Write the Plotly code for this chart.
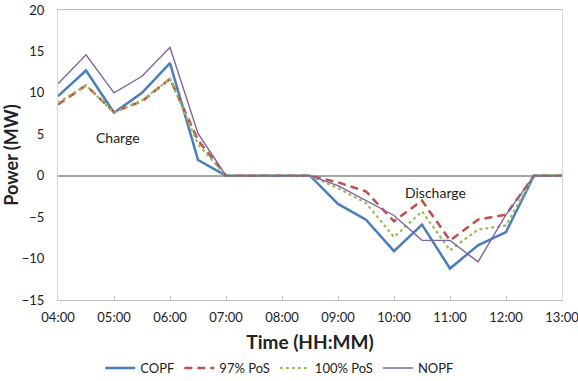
import plotly.graph_objects as go

# Half-hourly time stamps from 04:00 to 13:00
times = ["04:00", "04:30", "05:00", "05:30", "06:00", "06:30", "07:00", "07:30",
         "08:00", "08:30", "09:00", "09:30", "10:00", "10:30", "11:00", "11:30",
         "12:00", "12:30", "13:00"]

copf = [9.6, 12.7, 7.6, 10.0, 13.6, 1.9, 0, 0, 0, 0, -3.4, -5.3, -9.1, -5.9, -11.2, -8.4, -6.8, 0, 0]
pos97 = [8.6, 10.9, 7.7, 9.0, 11.7, 4.3, 0, 0, 0, 0, -0.8, -1.9, -5.5, -3.0, -7.8, -5.3, -4.7, 0, 0]
pos100 = [8.8, 10.9, 7.6, 9.1, 11.7, 3.8, 0, 0, 0, 0, -1.5, -3.3, -7.4, -4.3, -9.0, -6.5, -6.0, 0, 0]
nopf = [11.1, 14.6, 10.0, 12.0, 15.5, 5.1, 0, 0, 0, 0, -1.2, -3.0, -4.8, -7.8, -7.8, -10.4, -4.7, 0, 0]

x = ["2000-01-01 " + t for t in times]

fig = go.Figure()
fig.add_trace(go.Scatter(x=x, y=copf, name="COPF", mode="lines",
                         line=dict(color="#4a7ebb", width=2.5)))
fig.add_trace(go.Scatter(x=x, y=pos97, name="97% PoS", mode="lines",
                         line=dict(color="#c0504d", width=2.5, dash="8px,5px")))
fig.add_trace(go.Scatter(x=x, y=pos100, name="100% PoS", mode="lines",
                         line=dict(color="#9bbb59", width=2.2, dash="dot")))
fig.add_trace(go.Scatter(x=x, y=nopf, name="NOPF", mode="lines",
                         line=dict(color="#8064a2", width=1.4)))

fig.add_annotation(x="2000-01-01 05:04", y=4.6, text="Charge", showarrow=False,
                   font=dict(size=14, color="#222"))
fig.add_annotation(x="2000-01-01 10:44", y=-2.0, text="Discharge", showarrow=False,
                   font=dict(size=14, color="#222"))

fig.update_layout(
    width=578, height=381,
    margin=dict(l=58, r=16, t=10, b=81),
    paper_bgcolor="white", plot_bgcolor="white",
    font=dict(family="Lato, 'Open Sans', sans-serif", size=13, color="#222"),
    showlegend=True,
    legend=dict(orientation="h", x=0.44, xanchor="center",
                yref="container", y=0.034, yanchor="middle",
                font=dict(size=13), tracegroupgap=0),
)
fig.update_xaxes(
    automargin=False,
    range=["2000-01-01 04:00", "2000-01-01 13:00"],
    tickformat="%H:%M", dtick=3600000, tick0="2000-01-01 04:00",
    showgrid=False, showline=True, linecolor="#bfbfbf", mirror=True,
    ticks="inside", ticklen=4, tickcolor="#bfbfbf", ticklabelstandoff=5,
    ticklabeloverflow="allow",
    title=dict(text="<b>Time (HH:MM)</b>", font=dict(size=19), standoff=12),
)
fig.update_yaxes(
    automargin=False,
    range=[-15, 20], dtick=5,
    showgrid=False, showline=True, linecolor="#d9d9d9", mirror=True,
    zeroline=True, zerolinecolor="#a6a6a6", zerolinewidth=1.5,
    ticks="", ticklabelstandoff=10,
    title=dict(text="<b>Power (MW)</b>", font=dict(size=18), standoff=0),
)

fig.write_html("out.html")
